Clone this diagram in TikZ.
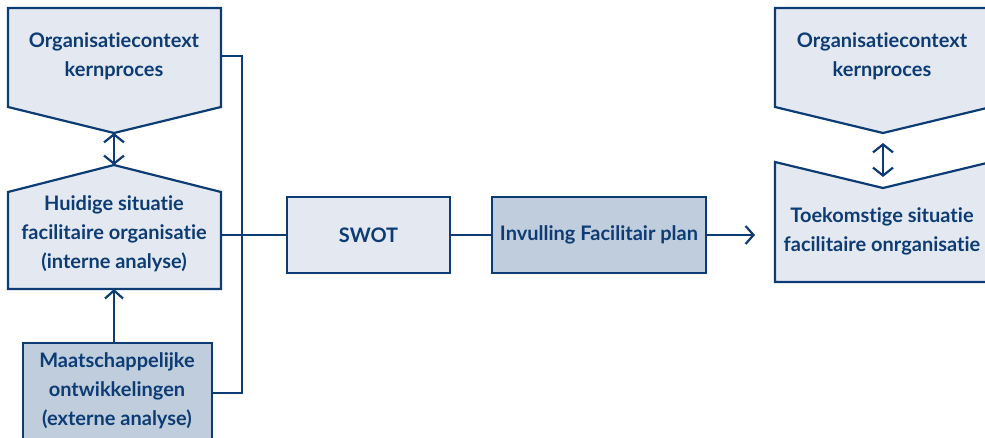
\documentclass[tikz,border=0pt]{standalone}
\usepackage{fontspec}
\setmainfont{Lato}[Ligatures=NoCommon]
\usetikzlibrary{arrows.meta}
\definecolor{navy}{HTML}{0D3C74}
\definecolor{paleblue}{HTML}{E4E9F1}
\definecolor{greyblue}{HTML}{BFCDDC}
\tikzset{
  shapebox/.style={draw=navy, line width=2.2pt, fill=paleblue, line join=miter},
  darkbox/.style={shapebox, fill=greyblue},
  label/.style={text=navy, font=\fontsize{20}{29}\selectfont\bfseries, align=center, inner sep=0pt},
  rectnode/.style={shapebox, label, minimum height=76pt},
  link/.style={draw=navy, line width=2.2pt},
  barb/.style={link, -{Straight Barb[length=8pt, width=18pt, line width=2.2pt]}},
  dbarb/.style={link, {Straight Barb[length=8pt, width=20pt, line width=2.2pt]}-{Straight Barb[length=8pt, width=20pt, line width=2.2pt]}}
}
\begin{document}
\begin{tikzpicture}[x=1pt, y=-1pt]
\useasboundingbox (0,0) rectangle (985,438);
\clip (0,0) rectangle (985,438);

% left column: context, current situation, external developments
\draw[shapebox] (8,8) -- (221,8) -- (221,107) -- (114,133) -- (8,107) -- cycle;
\node[label] (ctxL) at (114,56) {Organisatiecontext\\kernproces};
\coordinate (ctxLtip) at (114,133);
\coordinate (ctxLside) at (221,56);

\draw[shapebox] (114,165) -- (221,192) -- (221,289) -- (8,289) -- (8,192) -- cycle;
\node[label] (now) at (114,234) {Huidige situatie\\facilitaire organisatie\\(interne analyse)};
\coordinate (nowTop) at (114,165);
\coordinate (nowBottom) at (114,289);
\coordinate (nowSide) at (221,235);

\draw[darkbox] (23,343) rectangle (212,450);
\node[label] (ext) at (117,391) {Maatschappelijke\\ontwikkelingen\\(externe analyse)};
\coordinate (extTop) at (114,343);
\coordinate (extSide) at (212,393);

% collecting line into the SWOT
\coordinate (busTop) at (242,56);
\coordinate (busMid) at (242,235);
\coordinate (busBottom) at (242,393);

% middle row
\node[rectnode, minimum width=163pt] (swot) at (368.5,235) {SWOT};
\node[rectnode, fill=greyblue, minimum width=214pt] (plan) at (599,235) {Invulling Facilitair plan};
\coordinate (planEnd) at (755,235);

% right column: future situation
\draw[shapebox] (775,8) -- (991,8) -- (991,107) -- (883,133) -- (775,107) -- cycle;
\node[label] (ctxR) at (882,56) {Organisatiecontext\\kernproces};

\draw[shapebox] (775,162) -- (883,188) -- (991,162) -- (991,282) -- (775,282) -- cycle;
\node[label] (future) at (882,231) {Toekomstige situatie\\facilitaire onrganisatie};
\coordinate (rTop) at (883,143);
\coordinate (rBottom) at (883,177);

% connectors
\draw[dbarb] (ctxLtip) -- (nowTop);
\draw[barb] (extTop) -- (nowBottom);
\draw[link] (ctxLside) -- (busTop) -- (busBottom) -- (extSide);
\draw[link] (nowSide) -- (busMid) -- (swot.west);
\draw[link] (swot.east) -- (plan.west);
\draw[barb] (plan.east) -- (planEnd);
\draw[dbarb] (rTop) -- (rBottom);
\end{tikzpicture}
\end{document}
